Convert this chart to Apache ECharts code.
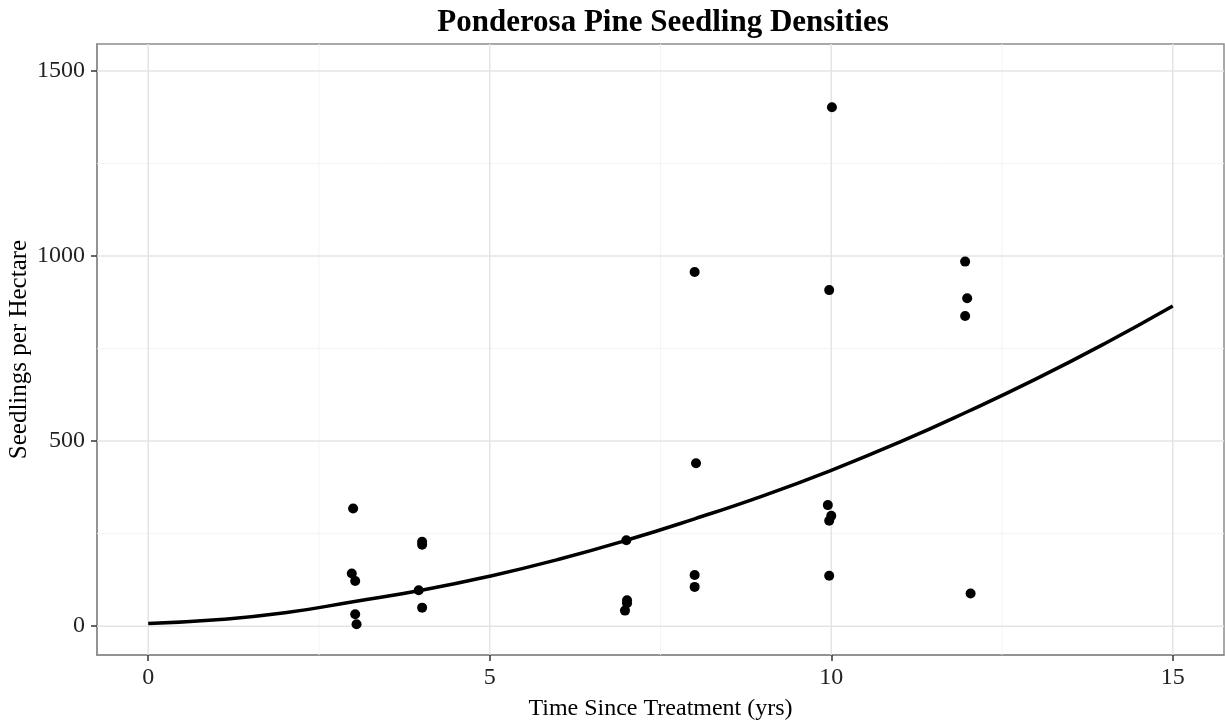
<!DOCTYPE html>
<html>
<head>
<meta charset="utf-8">
<script src="https://cdn.jsdelivr.net/npm/echarts@6/dist/echarts.min.js"></script>
<style>html,body{margin:0;padding:0;background:#fff}#c{width:1225px;height:721px}</style>
</head>
<body>
<div id="c"></div>
<script>
// Observed seedling densities
const obsX = [3, 3, 3, 3, 3, 4, 4, 4, 4, 7, 7, 7, 7, 8, 8, 8, 8, 10, 10, 10, 10, 10, 10, 12, 12, 12, 12];
const obsY = [318, 142, 122, 32, 5, 228, 220, 97, 50, 232, 70, 62, 42, 957, 440, 138, 106, 1402, 908, 327, 298, 285, 136, 985, 886, 838, 88];
// small horizontal offsets seen in the picture
const obsDX = [0, -0.02, 0.03, 0.03, 0.05, 0.01, 0.01, -0.04, 0.01, 0, 0.01, 0.01, -0.02, 0, 0.02, 0, 0, 0.01, -0.03, -0.05, 0, -0.03, -0.03, -0.04, -0.01, -0.04, 0.04];
// fitted curve, read at each year
const curveX = [0, 1, 2, 3, 4, 5, 6, 7, 8, 9, 10, 11, 12, 13, 14, 15];
const curveY = [7, 17, 36, 66, 97, 135, 180, 232, 290, 352, 421, 497, 580, 668, 763, 865];
// axis ticks
const xTicks = [0, 5, 10, 15];
const xMinor = [2.5, 7.5, 12.5];
const yTicks = [0, 500, 1000, 1500];
const yMinor = [250, 750, 1250];
const xRange = [-0.75, 15.75];
const yRange = [-78, 1573];

const serif = '"Liberation Serif", "DejaVu Serif", serif';
const chart = echarts.init(document.getElementById('c'), null, {renderer: 'canvas'});

function gridSeries(xs, ys, color, width) {
  const out = [];
  xs.forEach(v => out.push({
    type: 'line', z: 1, silent: true, showSymbol: false, animation: false,
    data: [[v, yRange[0]], [v, yRange[1]]],
    lineStyle: {color: color, width: width}, emphasis: {disabled: true}
  }));
  ys.forEach(v => out.push({
    type: 'line', z: 1, silent: true, showSymbol: false, animation: false,
    data: [[xRange[0], v], [xRange[1], v]],
    lineStyle: {color: color, width: width}, emphasis: {disabled: true}
  }));
  return out;
}

chart.setOption({
  animation: false,
  title: {
    text: 'Ponderosa Pine Seedling Densities',
    left: 658, top: 2, textAlign: 'center',
    textStyle: {fontFamily: serif, fontWeight: 'bold', fontSize: 31, color: '#000'}
  },
  grid: {left: 97, right: 1, top: 44, bottom: 66, show: true, outerBoundsMode: 'none', containLabel: false,
    borderColor: '#8c8c8c', borderWidth: 1.5, backgroundColor: '#fff'},
  xAxis: {
    type: 'value', min: xRange[0], max: xRange[1],
    name: 'Time Since Treatment (yrs)', nameLocation: 'middle', nameGap: 42, nameMoveOverlap: false,
    nameTextStyle: {fontFamily: serif, fontSize: 24, color: '#000'},
    axisLine: {show: true, onZero: false, lineStyle: {color: '#8c8c8c', width: 1.5}},
    axisTick: {show: true, customValues: xTicks, length: 6, lineStyle: {color: '#333', width: 1.5}},
    axisLabel: {customValues: xTicks, margin: 11, fontFamily: serif, fontSize: 24, color: '#222'},
    splitLine: {show: false}
  },
  yAxis: {
    type: 'value', min: yRange[0], max: yRange[1],
    name: 'Seedlings per Hectare', nameLocation: 'middle', nameGap: 65, nameMoveOverlap: false,
    nameTextStyle: {fontFamily: serif, fontSize: 25, color: '#000'},
    axisLine: {show: true, onZero: false, lineStyle: {color: '#8c8c8c', width: 1.5}},
    axisTick: {show: true, customValues: yTicks, length: 6, lineStyle: {color: '#333', width: 1.5}},
    axisLabel: {customValues: yTicks, margin: 12, fontFamily: serif, fontSize: 24, color: '#222',
      formatter: v => String(v)},
    splitLine: {show: false}
  },
  series: gridSeries(xMinor, yMinor, '#f4f4f4', 1)
    .concat(gridSeries(xTicks, yTicks, '#e4e4e4', 1.5))
    .concat([
    {
      type: 'line', z: 3,
      data: curveX.map((x, i) => [x, curveY[i]]),
      smooth: true, showSymbol: false,
      lineStyle: {color: '#000', width: 3.5}
    },
    {
      type: 'scatter', z: 4,
      data: obsX.map((x, i) => [x + obsDX[i], obsY[i]]),
      symbol: 'circle', symbolSize: 10,
      itemStyle: {color: '#000', opacity: 1}
    }
  ])
});
</script>
</body>
</html>
